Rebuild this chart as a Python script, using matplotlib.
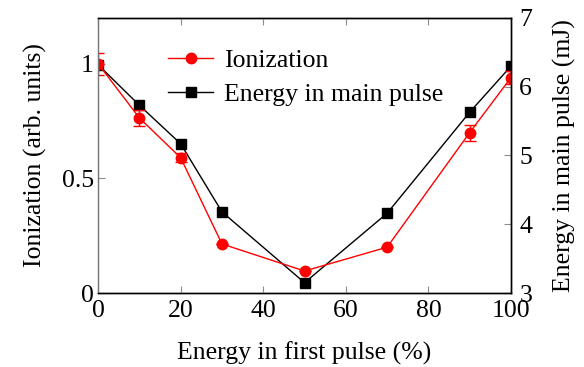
import matplotlib
matplotlib.use("Agg")
import matplotlib.pyplot as plt
from matplotlib.lines import Line2D

plt.rcParams['font.family'] = ['Liberation Serif', 'DejaVu Serif']

# data
first_pulse = [0, 10, 20, 30, 50, 70, 90, 100]
ionization = [1.0, 0.764, 0.59, 0.214, 0.096, 0.20, 0.70, 0.94]
ion_err = [0.048, 0.035, 0.02, 0.0, 0.0, 0.0, 0.035, 0.03]
main_energy = [6.32, 5.73, 5.17, 4.18, 3.15, 4.16, 5.63, 6.30]

fig = plt.figure(figsize=(5.84, 3.67), dpi=100)
ax1 = fig.add_axes([0.168, 0.2016, 0.707, 0.7494])
ax2 = ax1.twinx()

# red series drawn above the black one
ax1.set_zorder(ax2.get_zorder() + 1)
ax1.patch.set_visible(False)

ax1.errorbar(first_pulse, ionization, yerr=ion_err, color='red', marker='o',
             markersize=7.5, linewidth=1, capsize=4, elinewidth=1)
ax2.plot(first_pulse, main_energy, color='black', marker='s', markersize=7,
         linewidth=1)

ax1.set_xlim(0, 100)
ax1.set_ylim(0, 1.2)
ax2.set_ylim(3, 7)
ax1.set_xticks([0, 20, 40, 60, 80, 100])
ax1.set_yticks([0, 0.5, 1])
ax1.set_yticklabels(['0', '0.5', '1'])
ax2.set_yticks([3, 4, 5, 6, 7])

fs = 18.5
ax1.tick_params(axis='x', direction='in', top=True, labelsize=fs, color='0.55',
                length=5, pad=5)
ax1.tick_params(axis='y', direction='in', labelsize=fs, color='0.55', length=5, pad=3)
ax2.tick_params(axis='y', direction='in', labelsize=fs, color='0.55', length=5, pad=6)

for s in ['top', 'bottom', 'right']:
    ax1.spines[s].set_color('black')
ax1.spines['left'].set_color('0.45')
ax2.spines['left'].set_visible(False)
for sp in list(ax1.spines.values()) + list(ax2.spines.values()):
    sp.set_linewidth(1)

ax1.set_xlabel('Energy in first pulse (%)', fontsize=fs, labelpad=14)
ax1.set_ylabel('Ionization (arb. units)', fontsize=fs, labelpad=11)
ax2.set_ylabel('Energy in main pulse (mJ)', fontsize=fs, labelpad=15)

h1 = Line2D([], [], color='red', marker='o', markersize=7.5, linewidth=1)
h2 = Line2D([], [], color='black', marker='s', markersize=7, linewidth=1)
ax1.legend([h1, h2], ['Ionization', 'Energy in main pulse'], loc='upper left',
           bbox_to_anchor=(0.17, 0.888), frameon=False, fontsize=fs,
           handlelength=1.75, handletextpad=0.4, labelspacing=0.45, borderpad=0,
           borderaxespad=0)

fig.savefig('out.png', dpi=100)
